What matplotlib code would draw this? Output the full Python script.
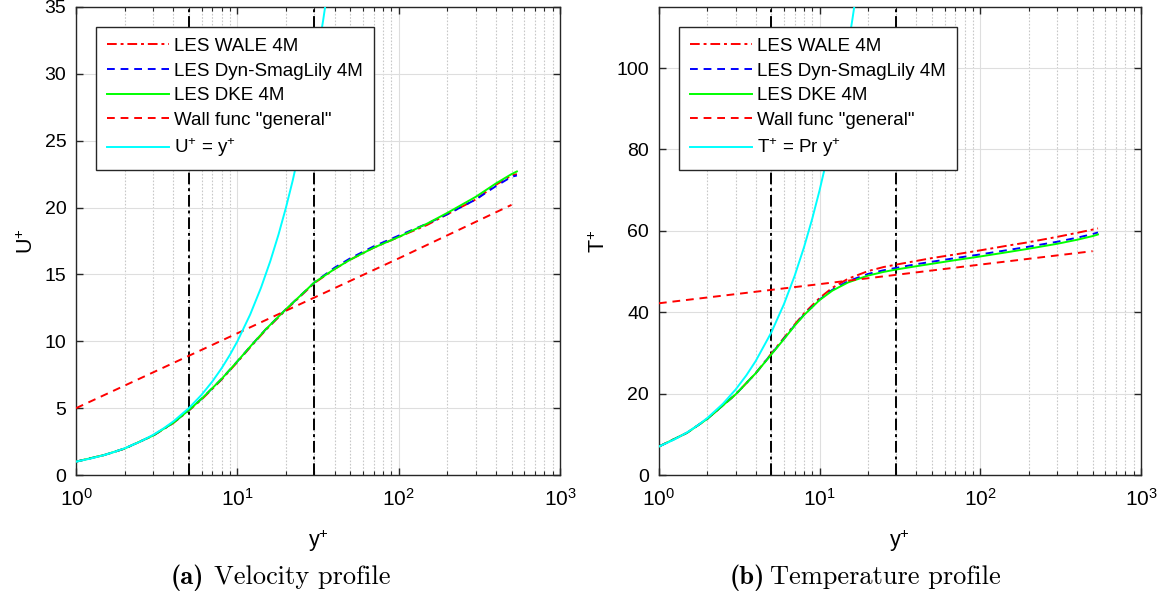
import numpy as np
import matplotlib.pyplot as plt

plt.rcParams["font.family"] = ["Liberation Sans", "DejaVu Sans"]
plt.rcParams["mathtext.default"] = "regular"

# velocity profile (left)
yp_les = [1, 1.5, 2, 3, 4, 5, 6, 7, 8, 10, 12, 15, 20, 25, 30, 40, 50, 70, 100, 150, 200, 300, 400, 500, 540]
u_wale = [1.0, 1.5, 1.97, 2.94, 3.88, 4.82, 5.65, 6.45, 7.15, 8.45, 9.55, 10.85, 12.35, 13.45, 14.35,
          15.4, 16.1, 17.0, 17.8, 18.7, 19.5, 20.6, 21.7, 22.4, 22.5]
u_dyn = [1.0, 1.5, 1.98, 2.95, 3.9, 4.85, 5.7, 6.5, 7.2, 8.5, 9.6, 10.9, 12.4, 13.5, 14.4,
         15.5, 16.2, 17.1, 17.9, 18.8, 19.5, 20.6, 21.6, 22.3, 22.4]
u_dke = [1.0, 1.5, 1.98, 2.95, 3.9, 4.85, 5.7, 6.5, 7.2, 8.5, 9.6, 10.9, 12.4, 13.5, 14.4,
         15.4, 16.1, 17.0, 17.8, 18.8, 19.6, 20.8, 21.8, 22.5, 22.7]
yp_wall = [1, 10, 100, 500]
u_wall = [5.0, 10.6, 16.2, 20.2]
yp_ulin = [1, 1.25, 1.5, 1.75, 2, 2.5, 3, 3.5, 4, 5, 6, 7, 8, 9, 10, 12, 14, 16, 18, 20, 22, 25, 28, 31, 34, 37, 40]
u_lin = [1, 1.25, 1.5, 1.75, 2, 2.5, 3, 3.5, 4, 5, 6, 7, 8, 9, 10, 12, 14, 16, 18, 20, 22, 25, 28, 31, 34, 37, 40]

# temperature profile (right)
t_wale = [7.0, 10.4, 13.8, 19.8, 25.0, 29.8, 33.7, 37.0, 39.7, 43.5, 46.0, 48.2, 50.1, 51.1, 51.7,
          52.6, 53.3, 54.2, 55.2, 56.4, 57.2, 58.5, 59.5, 60.3, 60.6]
t_dyn = [7.0, 10.4, 13.8, 19.8, 25.0, 29.7, 33.5, 36.8, 39.4, 43.1, 45.5, 47.6, 49.4, 50.3, 50.9,
         51.8, 52.4, 53.3, 54.2, 55.3, 56.1, 57.3, 58.3, 59.2, 59.6]
t_dke = [7.0, 10.4, 13.8, 19.8, 25.0, 29.6, 33.4, 36.7, 39.3, 43.0, 45.3, 47.3, 49.0, 49.9, 50.5,
         51.3, 51.9, 52.8, 53.7, 54.8, 55.6, 56.8, 57.8, 58.7, 59.1]
t_wall = [42.2, 46.9, 51.7, 55.0]
yp_tlin = [1, 1.25, 1.5, 1.75, 2, 2.5, 3, 3.5, 4, 5, 6, 7, 8, 9, 10, 11, 12, 13, 14, 15, 16, 17]
t_lin = [7, 8.75, 10.5, 12.25, 14, 17.5, 21, 24.5, 28, 35, 42, 49, 56, 63, 70, 77, 84, 91, 98, 105, 112, 119]

fig = plt.figure(figsize=(11.7, 5.94), dpi=100)
ax1 = fig.add_axes([0.065, 0.2003, 0.4137, 0.788])
ax2 = fig.add_axes([0.5632, 0.2003, 0.412, 0.788])

edge = "0.15"
lw = 1.4


def draw(ax, y1, y2, y3, yw, xl, yl, lab_lin, ylab, ylim, yticks):
    ax.plot(yp_les, y1, color="red", lw=lw, ls=(0, (5, 2, 1.5, 2)), label="LES WALE 4M", zorder=3)
    ax.plot(yp_les, y2, color="blue", lw=lw, ls=(0, (4, 3)), label="LES Dyn-SmagLily 4M", zorder=3)
    ax.plot(yp_les, y3, color="#00ff00", lw=lw, ls="-", label="LES DKE 4M", zorder=3)
    ax.plot(yp_wall, yw, color="red", lw=lw, ls=(0, (4, 3)), label='Wall func "general"', zorder=3)
    ax.plot(xl, yl, color="cyan", lw=lw, ls="-", label=lab_lin, zorder=3)
    for xv in [5, 30]:
        ax.axvline(xv, color="black", lw=1.4, ls=(0, (6, 2, 1.5, 2)), zorder=2)
    ax.set_xscale("log")
    ax.set_xlim(1, 1000)
    ax.set_ylim(*ylim)
    ax.set_yticks(yticks)
    ax.grid(True, which="major", color="#dedede", lw=0.8, ls="-", zorder=0)
    ax.grid(True, which="minor", axis="x", color="#c8c8c8", lw=0.8, ls=(0, (1.5, 1.5)), zorder=0)
    ax.set_axisbelow(True)
    ax.tick_params(which="both", direction="in", top=True, right=True, colors=edge,
                   labelcolor="black")
    ax.tick_params(axis="y", labelsize=14, pad=7)
    ax.tick_params(axis="x", labelsize=15, pad=9)
    ax.tick_params(which="major", length=5, width=1)
    ax.tick_params(which="minor", length=3, width=0.8)
    for s in ax.spines.values():
        s.set_color(edge)
        s.set_linewidth(1.0)
    ax.set_xlabel(r"y$^{+}$", fontsize=15.5, labelpad=13)
    ax.set_ylabel(ylab, fontsize=15.5, labelpad=5)
    leg = ax.legend(loc="upper left", fontsize=13.5, handlelength=3.3, borderaxespad=1.05,
                    labelspacing=0.4, handletextpad=0.3, fancybox=False, framealpha=1,
                    borderpad=0.6)
    leg.get_frame().set_edgecolor(edge)
    leg.get_frame().set_linewidth(1.0)


draw(ax1, u_wale, u_dyn, u_dke, u_wall, yp_ulin, u_lin, r"U$^{+}$ = y$^{+}$", r"U$^{+}$",
     (0, 35), range(0, 36, 5))
draw(ax2, t_wale, t_dyn, t_dke, t_wall, yp_tlin, t_lin, r"T$^{+}$ = Pr y$^{+}$", r"T$^{+}$",
     (0, 115), range(0, 101, 20))

base = 1 - 584 / 594
fig.text(204 / 1170, base, "(a)", fontfamily="cmb10", fontsize=19, ha="right", va="baseline")
fig.text(214 / 1170, base, "Velocity profile", fontfamily="cmr10", fontsize=19, ha="left", va="baseline")
fig.text(765 / 1170, base, "(b)", fontfamily="cmb10", fontsize=19, ha="right", va="baseline")
fig.text(770 / 1170, base, "Temperature profile", fontfamily="cmr10", fontsize=19, ha="left", va="baseline")

fig.savefig("out.png", dpi=100)
